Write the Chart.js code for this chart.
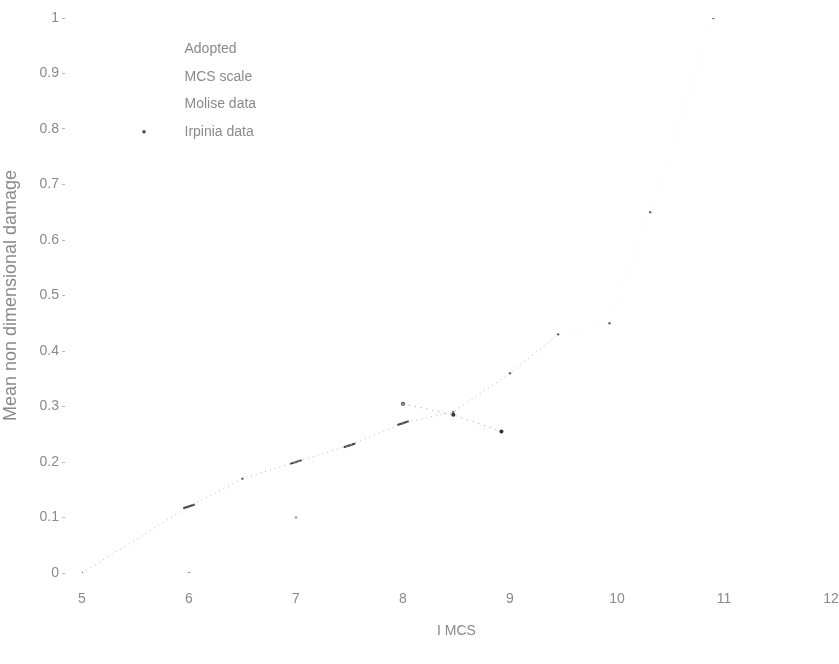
<!DOCTYPE html>
<html>
<head>
<meta charset="utf-8">
<script src="https://cdn.jsdelivr.net/npm/chart.js@4.4.1/dist/chart.umd.min.js"></script>
<style>
  html, body { margin: 0; padding: 0; background: #ffffff; }
  #wrap { width: 839px; height: 664px; }
</style>
</head>
<body>
<div id="wrap"><canvas id="c" width="839" height="664"></canvas></div>
<script>
// ---- data ----
const seriesNames = ["Adopted", "MCS scale", "Molise data", "Irpinia data"];

const adoptedX = [5, 6, 6.5, 7, 7.5, 8, 8.47, 9, 9.45, 9.93, 10.31, 10.9];
const adoptedY = [0, 0.12, 0.17, 0.2, 0.23, 0.27, 0.29, 0.36, 0.43, 0.45, 0.65, 1.0];

const mcsX = [6, 7, 8];
const mcsY = [0, 0.1, 0.305];

const moliseX = [6, 7, 7.5, 8];
const moliseY = [0.12, 0.2, 0.23, 0.27];

const irpiniaX = [8, 8.47, 8.92];
const irpiniaY = [0.305, 0.285, 0.255];

const xTicks = [5, 6, 7, 8, 9, 10, 11, 12];
const yTicks = [0, 0.1, 0.2, 0.3, 0.4, 0.5, 0.6, 0.7, 0.8, 0.9, 1];

const xTitle = "I MCS";
const yTitle = "Mean non dimensional damage";

function pts(xs, ys) { return xs.map((x, i) => ({ x: x, y: ys[i] })); }

const TEXT = "#8a8a8a";
const FONT = { family: "'Liberation Sans', Arial, sans-serif", size: 14 };

new Chart(document.getElementById("c"), {
  type: "scatter",
  data: {
    datasets: [
      {
        label: seriesNames[0],
        data: pts(adoptedX, adoptedY),
        showLine: true,
        borderColor: "#b4b4b4",
        borderWidth: 1,
        borderDash: [1, 4],
        segment: {
          borderColor: ctx => (ctx.p0.parsed.x >= 9.4 ? "rgba(0,0,0,0.06)" : undefined)
        },
        pointRadius: 1.2,
        pointBackgroundColor: "#666",
        pointBorderWidth: 0,
        pointStyle: "circle"
      },
      {
        label: seriesNames[1],
        data: pts(mcsX, mcsY),
        showLine: false,
        borderColor: "#bbbbbb",
        backgroundColor: "#999",
        pointRadius: 1.3,
        pointBorderWidth: 0,
        pointStyle: "circle"
      },
      {
        label: seriesNames[2],
        data: pts(moliseX, moliseY),
        showLine: false,
        borderColor: "#444",
        pointStyle: "line",
        pointRadius: 6,
        pointRotation: -18,
        pointBorderWidth: 2
      },
      {
        label: seriesNames[3],
        data: pts(irpiniaX, irpiniaY),
        showLine: true,
        borderColor: "#9a9a9a",
        borderWidth: 1,
        borderDash: [1, 5],
        pointRadius: 2,
        pointBackgroundColor: "#333",
        pointBorderWidth: 0,
        pointStyle: "circle"
      }
    ]
  },
  options: {
    responsive: false,
    animation: false,
    layout: { padding: { top: 18, right: 8, left: 0, bottom: 0 } },
    plugins: {
      tooltip: { enabled: false },
      legend: {
        position: "chartArea",
        align: "start",
        title: { display: true, text: "", font: FONT, padding: { top: 6, bottom: 6 } },
        labels: {
          color: TEXT,
          font: FONT,
          boxWidth: 82,
          boxHeight: 0,
          padding: 13.5,
          generateLabels(chart) {
            return chart.data.datasets.map((ds, i) => ({
              text: ds.label,
              fontColor: TEXT,
              fillStyle: "rgba(0,0,0,0)",
              strokeStyle: i === 3 ? "#444" : "rgba(0,0,0,0)",
              lineWidth: i === 3 ? 3 : 0,
              lineCap: "butt",
              lineDash: [0, 47, 3, 10000],
              lineDashOffset: 0,
              datasetIndex: i,
              hidden: false
            }));
          }
        }
      }
    },
    scales: {
      x: {
        type: "linear",
        min: 5,
        max: 12,
        afterBuildTicks(scale) { scale.ticks = xTicks.map(v => ({ value: v })); },
        afterFit(scale) { scale.height = 91; scale.paddingRight = 0; scale.paddingLeft = 0; },
        border: { display: false },
        grid: { display: false, drawOnChartArea: false },
        ticks: { color: TEXT, font: FONT, padding: 10, maxRotation: 0 },
        title: { display: true, text: xTitle, color: TEXT, font: FONT, padding: { top: 6, bottom: 24 } }
      },
      y: {
        type: "linear",
        min: 0,
        max: 1,
        afterBuildTicks(scale) { scale.ticks = yTicks.map(v => ({ value: v })); },
        afterFit(scale) { scale.width = 82; },
        border: { display: false },
        grid: {
          drawOnChartArea: false,
          drawTicks: true,
          tickLength: 20,
          tickBorderDash: [3, 30],
          tickColor: "#b8b8b8"
        },
        ticks: {
          color: TEXT,
          font: FONT,
          padding: 3,
          callback: v => String(v)
        },
        title: {
          display: true,
          text: yTitle,
          color: TEXT,
          font: { family: "'Liberation Sans', Arial, sans-serif", size: 18 },
          padding: { top: 0, bottom: 3 }
        }
      }
    }
  }
});
</script>
</body>
</html>
